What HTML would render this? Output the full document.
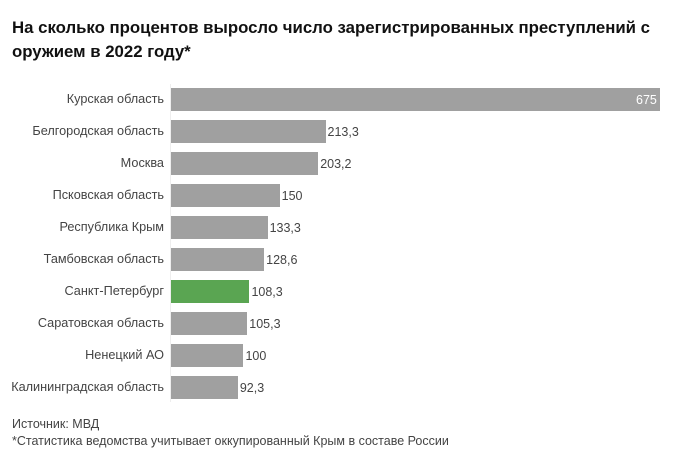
<!DOCTYPE html>
<html><head><meta charset="utf-8"><style>
body{margin:0;width:688px;height:468px;background:#fff;font-family:"Liberation Sans","DejaVu Sans",sans-serif;position:relative;overflow:hidden}
.t{position:absolute;left:12px;top:16px;width:676px;font-size:16.8px;font-weight:bold;line-height:24px;color:#111}
.l{position:absolute;right:524px;font-size:12.7px;color:#444;white-space:nowrap}
.b{position:absolute;left:171px;height:23px;background:#a0a0a0}
.v{position:absolute;font-size:12.5px;color:#444}
.f{position:absolute;left:12px;font-size:12.5px;color:#444}
</style></head><body>
<div class="t">На сколько процентов выросло число зарегистрированных преступлений с оружием в 2022 году*</div>
<div style="position:absolute;left:170px;top:84px;width:1px;height:318px;background:#eee"></div>
<div id="c"></div>
<script>
var d=[["Курская область",675],["Белгородская область",213.3],["Москва",203.2],["Псковская область",150],["Республика Крым",133.3],["Тамбовская область",128.6],["Санкт-Петербург",108.3],["Саратовская область",105.3],["Ненецкий АО",100],["Калининградская область",92.3]];
var h="";d.forEach(function(r,i){var y=88+i*32,w=r[1]*489/675,s=String(r[1]).replace(".",",");
h+='<div class="l" style="top:'+(y+4)+'px">'+r[0]+'</div>';
h+='<div class="b" style="top:'+y+'px;width:'+w+'px;'+(i==6?'background:#5aa552':'')+'"></div>';
if(i==0)h+='<div class="v" style="top:'+(y+5)+'px;left:636px;color:#fff">'+s+'</div>';
else h+='<div class="v" style="top:'+(y+5)+'px;left:'+(173+w)+'px">'+s+'</div>';});
document.getElementById("c").innerHTML=h;
</script>
<div class="f" style="top:417px">Источник: МВД</div>
<div class="f" style="top:434px">*Статистика ведомства учитывает оккупированный Крым в составе России</div>
</body></html>
